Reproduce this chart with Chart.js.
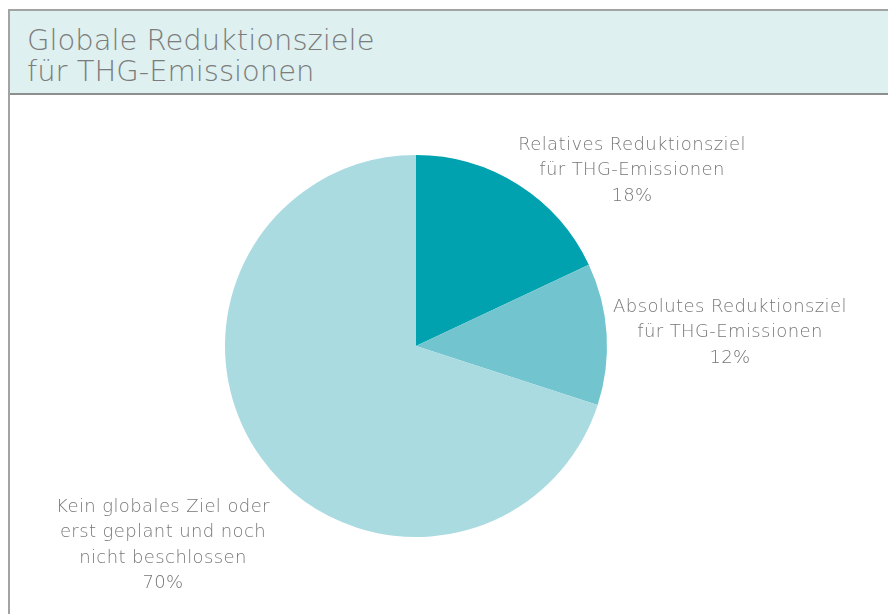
<!DOCTYPE html>
<html>
<head>
<meta charset="utf-8">
<script src="https://cdn.jsdelivr.net/npm/chart.js@4"></script>
<style>
  body { margin: 0; background: #fff; width: 888px; height: 614px; overflow: hidden; position: relative; font-family: "DejaVu Sans", sans-serif; }
  #frame { position: absolute; left: 8px; top: 9px; right: -5px; bottom: -5px; border-left: 2px solid #a3a3a3; border-top: 2px solid #a3a3a3; }
  #head { position: absolute; left: 0; top: 0; right: 0; height: 82px; background: #def0f0; border-bottom: 2px solid #8e8e8e; }
  #head div { position: absolute; left: 17px; top: 14px; font-size: 29px; font-weight: 200; line-height: 31px; color: #7c7c7c; }
  #c { position: absolute; left: 0; top: 0; }
</style>
</head>
<body>
<div id="frame"><div id="head"><div>Globale Reduktionsziele<br>für THG-Emissionen</div></div></div>
<canvas id="c" width="888" height="614"></canvas>
<script>
var categories = [
    ['Relatives Reduktionsziel', 'für THG-Emissionen'],
    ['Absolutes Reduktionsziel', 'für THG-Emissionen'],
    ['Kein globales Ziel oder', 'erst geplant und noch', 'nicht beschlossen']
]
var shares = [18, 12, 70]
var sliceColors = ['#00a2af', '#72c5cf', '#aadbe1']

// where each label block sits (centre x, first line y)
var labelSpots = [[632, 145], [730, 307], [163, 507]]

var outsideLabels = {
    id: 'outsideLabels',
    afterDraw: function (chart) {
        var ctx = chart.ctx
        ctx.save()
        ctx.font = '300 18px "DejaVu Sans", sans-serif'
        ctx.letterSpacing = '0.4px'
        ctx.fillStyle = '#777777'
        ctx.textAlign = 'center'
        ctx.textBaseline = 'middle'
        chart.data.labels.forEach(function (lab, i) {
            var lines = lab.concat([shares[i] + '%'])
            lines.forEach(function (t, j) {
                ctx.fillText(t, labelSpots[i][0], labelSpots[i][1] + j * 25.5)
            })
        })
        ctx.restore()
    }
}

var chart = new Chart(document.getElementById('c').getContext('2d'), {
    type: 'pie',
    data: {
        labels: categories,
        datasets: [{
            data: shares,
            backgroundColor: sliceColors,
            borderWidth: 0
        }]
    },
    options: {
        responsive: false,
        animation: false,
        layout: { padding: { left: 225, right: 281, top: 155, bottom: 77 } },
        plugins: {
            legend: { display: false },
            tooltip: { enabled: false }
        }
    },
    plugins: [outsideLabels]
})
</script>
</body>
</html>
